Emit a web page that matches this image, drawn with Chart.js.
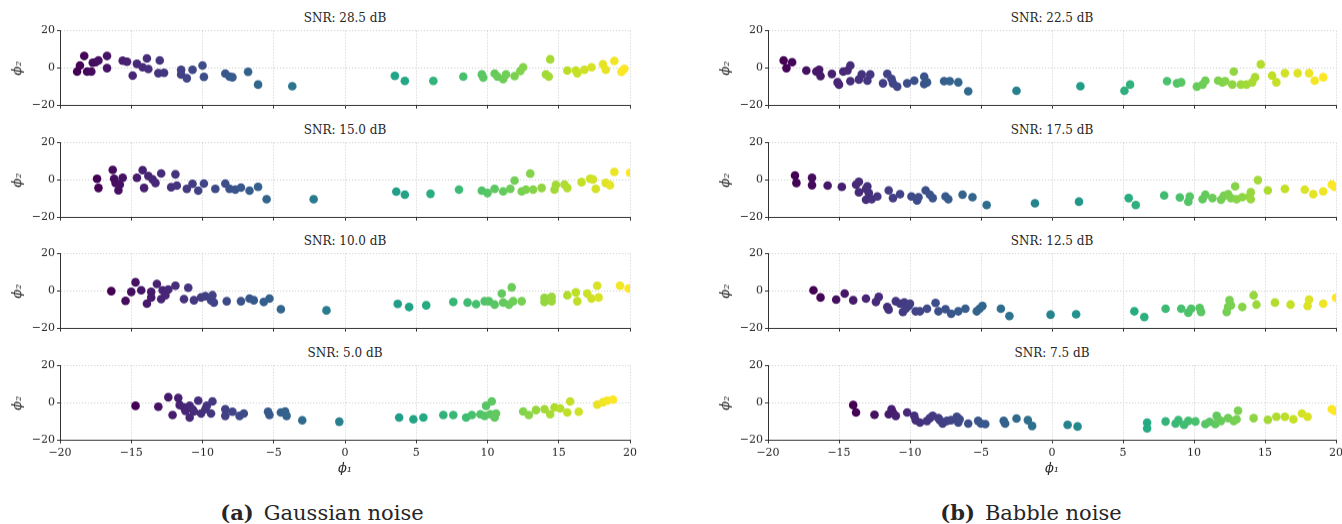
<!DOCTYPE html>
<html>
<head>
<meta charset="utf-8">
<script src="https://cdn.jsdelivr.net/npm/chart.js@4.4.0/dist/chart.umd.min.js"></script>
<style>
  body { margin: 0; background: #fff; }
  #fig { position: relative; width: 1342px; height: 524px; overflow: hidden;
         font-family: 'DejaVu Serif', serif; color: #262626; }
  .panel { position: absolute; }
  .title { position: absolute; font-size: 12px; line-height: 14px; text-align: center; white-space: nowrap; }
  .caption { position: absolute; font-size: 21px; line-height: 21px; text-align: center; white-space: nowrap; }
  .caption b { margin-right: 10px; }
</style>
</head>
<body>
<div id="fig"></div>
<script>
// --- data ---
const xTicks = [-20, -15, -10, -5, 0, 5, 10, 15, 20];
const yTicks = [-20, 0, 20];
const snrGauss = ['28.5', '15.0', '10.0', '5.0'];
const snrBabble = ['22.5', '17.5', '12.5', '7.5'];

// Gaussian noise, SNR 28.5 dB
const g285x = [-18.8, -18.6, -18.3, -18.1, -17.8, -17.7, -17.5, -17.3, -16.7, -16.7, -15.6, -15.3, -14.9, -14.6, -14.2, -13.9, -13.8, -13.1, -13.0, -12.7,
  -11.5, -11.5, -11.1, -10.7, -10.0, -9.9, -8.4, -8.1, -7.9, -6.8, -6.1, -3.7, 3.5, 4.2, 6.2, 8.3, 9.6, 9.7, 10.5, 10.7,
  11.1, 11.3, 11.9, 12.3, 12.5, 14.1, 14.3, 14.4, 15.6, 16.2, 16.3, 16.8, 17.3, 18.1, 18.3, 18.9, 19.4, 19.6];
const g285y = [-1.8, 1.4, 6.5, -1.8, -1.8, 2.9, 3.2, 4.1, 6.5, 0, 4, 3.4, -4, 2.3, 0.5, 5.2, -0.5, -2.7, 4.1, -2.5,
  -0.9, -3.4, -5.4, -0.9, 1.4, -4.7, -2.9, -4.5, -4.9, -2, -8.8, -9.7, -4.1, -6.8, -6.8, -4.5, -3.4, -5, -2.9, -4.5,
  -5.9, -3.4, -4.3, -1.6, 0.5, -3.4, -4.5, 4.7, -1.3, -1.3, -2.7, -0.9, 0.5, 2, -0.9, 3.8, -2, -0.4];

// Gaussian noise, SNR 15.0 dB
const g150x = [-17.4, -17.3, -16.3, -16.2, -16.1, -15.9, -15.8, -15.6, -14.6, -14.2, -14.1, -13.8, -13.5, -13.3, -12.9, -12.2, -11.9, -11.8, -11.1, -10.7,
  -10.3, -9.9, -9.1, -8.4, -8.1, -7.7, -7.3, -6.7, -6.1, -5.5, -2.2, 3.6, 4.2, 6.0, 8.0, 9.6, 10.0, 10.5, 11.1, 11.6,
  11.9, 12.4, 12.7, 13.0, 13.2, 13.8, 14.7, 14.8, 15.4, 15.6, 16.6, 17.2, 17.4, 17.6, 18.3, 18.6, 18.9, 20.0];
const g150y = [0.7, -4.2, 5.5, 0.7, -1.5, -5.5, -2.4, 1.3, 1.3, 5.3, -4.2, 2.2, 0.4, -1.5, 3.6, -3.8, 3.1, -2.9, -4.7, -2,
  -5.6, -1.8, -4.7, -1.8, -4.7, -5.1, -4, -5.6, -3.6, -10.2, -10.2, -6.2, -7.8, -7.3, -5.1, -5.6, -6.9, -4.7, -6, -4.7,
  -0.2, -6, -5.1, 3.5, -5.1, -4.2, -5.1, -2.5, -2.4, -4.2, -1.1, 0.7, 0.4, -4.7, -1.5, -2.7, 4.4, 4.0];

// Gaussian noise, SNR 10.0 dB
const g100x = [-16.4, -15.4, -15.0, -14.7, -14.3, -13.9, -13.6, -13.6, -13.2, -12.9, -12.8, -12.6, -12.4, -11.9, -11.3, -11.0, -10.6, -10.1, -9.8, -9.4,
  -9.3, -9.2, -8.3, -7.3, -6.7, -6.4, -5.7, -5.3, -4.5, -1.3, 3.7, 4.5, 5.7, 7.6, 8.6, 9.2, 9.8, 10.1, 10.5, 11.0,
  11.1, 11.5, 11.7, 11.8, 12.4, 14.0, 14.0, 14.5, 14.5, 15.6, 16.2, 16.3, 17.0, 17.3, 17.7, 17.8, 19.3, 19.9];
const g100y = [0, -5.2, -0.4, 4.7, 0.5, -6.7, -0.4, -3.4, 3.8, -4.3, 0.5, -2.2, 0.9, 2.9, -4.3, 1.8, -4.9, -3.4, -2.7, -4.9,
  -2.2, -6.1, -5.4, -5.4, -4.0, -4.9, -5.8, -4.0, -9.7, -10.3, -6.8, -8.5, -7.6, -5.8, -6.1, -7.0, -5.4, -5.4, -7.2, -1.3,
  -6.1, -7.2, 2.0, -5.4, -5.4, -3.6, -5.8, -3.1, -5.4, -2.2, -0.7, -5.4, -1.3, -4.0, 2.9, -3.4, 2.9, 1.4];

// Gaussian noise, SNR 5.0 dB
const g50x = [-14.7, -13.1, -12.4, -12.1, -11.7, -11.6, -11.3, -11.2, -10.9, -10.9, -10.7, -10.6, -10.3, -10.1, -9.8, -9.7, -9.4, -9.3, -8.4, -8.4,
  -7.9, -7.4, -7.1, -5.4, -5.3, -4.5, -4.2, -4.1, -3.0, -0.4, 3.8, 4.8, 5.5, 6.9, 7.6, 8.5, 8.9, 9.5, 9.8, 9.9,
  10.2, 10.3, 10.5, 10.6, 12.5, 12.9, 13.4, 14.0, 14.4, 14.7, 15.1, 15.6, 15.8, 16.4, 17.7, 18.1, 18.4, 18.8];
const g50y = [-1.5, -2, 3.1, -6.4, 2.7, -1.1, -2.4, -4.2, -1.5, -7.8, -3.3, -4.5, 1.3, -5.6, -3.3, -1.5, -5.6, 0.9, -3.3, -6.9,
  -4.7, -6.9, -5.6, -4.7, -6.4, -5.1, -4.5, -6.9, -9.3, -10, -7.8, -8.7, -7.8, -6.4, -6.4, -7.8, -6.4, -6, -6.9, -1.5,
  -6, 0.9, -7.8, -5.6, -4.5, -6.4, -3.8, -3.3, -6, -2.4, -2.9, -5.1, 0.9, -4.7, -0.9, 0.4, 1.3, 1.8];

// Babble noise, SNR 22.5 dB
const b225x = [-18.9, -18.7, -18.3, -17.3, -16.6, -16.4, -16.3, -15.5, -15.1, -15.0, -14.7, -14.4, -14.2, -14.2, -13.6, -13.4, -13.0, -12.8, -11.9, -11.6,
  -11.3, -11.2, -10.9, -10.2, -9.7, -9.0, -9.0, -8.8, -7.6, -7.2, -6.6, -5.9, -2.5, 2.0, 5.1, 5.5, 8.1, 8.8, 9.1, 10.2,
  10.6, 10.8, 11.7, 12.0, 12.2, 12.7, 12.8, 13.3, 13.7, 14.1, 14.3, 14.7, 15.5, 15.8, 16.4, 17.3, 18.1, 18.5, 19.1];
const b225y = [4.1, 0, 3.2, -1.3, -1.8, -0.9, -4.3, -3.1, -7.6, -8.8, -1.8, -1.3, 1.4, -7, -6.1, -3.4, -6.7, -3.4, -8.1, -3.1,
  -5.8, -8.1, -9.9, -8.1, -6.7, -4.5, -8.5, -7.6, -7, -7, -7.6, -12.4, -12.1, -9.7, -12.1, -8.8, -7, -8.1, -7.6, -9.9,
  -8.8, -6.7, -6.7, -7.6, -7, -8.8, -1.8, -8.8, -8.8, -7.6, -4.9, 2, -4, -7.6, -2.7, -2.7, -2.7, -6.7, -4.9];

// Babble noise, SNR 17.5 dB
const b175x = [-18.1, -18.0, -16.9, -16.9, -15.8, -14.8, -13.8, -13.6, -13.6, -13.1, -13.1, -13.0, -12.9, -12.7, -12.3, -11.5, -11.2, -10.7, -9.9, -9.5,
  -9.4, -8.9, -8.6, -8.4, -7.5, -7.3, -6.3, -5.6, -4.6, -1.2, 1.9, 5.4, 5.9, 7.9, 9.0, 9.6, 9.7, 10.6, 10.8, 11.3,
  11.9, 12.1, 12.4, 12.6, 12.9, 13.0, 13.4, 13.9, 14.0, 14.0, 14.5, 15.2, 16.4, 17.8, 18.4, 19.1, 19.7, 19.9];
const b175y = [2.5, -1.5, 1.3, -2.7, -2.9, -3.6, -2.4, -0.9, -6.5, -4.7, -10.5, -3.3, -6.9, -10.2, -8.7, -5.5, -9.6, -7.5, -8.7, -10.9,
  -9.1, -5.5, -7.8, -9.6, -8.7, -10.2, -7.8, -9.1, -13.3, -12.4, -11.5, -9.6, -13.3, -8.2, -9.3, -11.5, -8.7, -10.2, -7.8, -9.6,
  -10.5, -8.4, -7.5, -9.6, -3.3, -10.2, -9.1, -8.7, -6.5, -10.2, 0, -5.5, -4.7, -5.1, -7.5, -6, -2.4, -3.6];

// Babble noise, SNR 12.5 dB
const b125x = [-16.8, -16.3, -15.2, -14.6, -14.0, -13.1, -12.4, -12.2, -11.6, -11.5, -11.0, -10.7, -10.5, -10.4, -10.3, -10.1, -10.0, -9.6, -9.3, -8.8,
  -8.2, -8.0, -7.5, -7.1, -6.6, -6.1, -5.3, -5.1, -4.9, -3.6, -3.0, -0.1, 1.7, 5.8, 6.5, 8.0, 9.1, 9.6, 9.8, 10.4,
  10.5, 12.3, 12.4, 12.5, 12.6, 13.4, 14.2, 14.4, 15.7, 16.8, 18.0, 18.1, 19.1, 20.0];
const b125y = [0.5, -3.4, -4.5, -1.3, -4.9, -4, -5.8, -3.1, -8.5, -9.9, -5.4, -6.7, -11.2, -6.1, -9.4, -7.9, -6.7, -10.8, -10.8, -9.4,
  -6.3, -10.8, -9.7, -12.1, -10.8, -9.4, -10.8, -9.4, -7.9, -9.4, -13.3, -12.6, -12.4, -10.8, -13.9, -9.4, -9.4, -11.5, -9.4, -9,
  -11.2, -11.2, -8.5, -4.9, -7.6, -8.5, -2.2, -7.2, -6.1, -7.2, -7.9, -4.5, -6.7, -3.6];

// Babble noise, SNR 7.5 dB
const b75x = [-14.0, -13.8, -12.5, -11.5, -11.3, -11.2, -11.0, -10.2, -9.7, -9.6, -9.3, -8.8, -8.6, -8.4, -8.0, -7.9, -7.7, -7.4, -7.1, -6.7,
  -6.6, -6.5, -5.9, -5.2, -5.0, -4.7, -3.4, -3.3, -2.5, -1.7, -1.4, 1.1, 1.8, 6.7, 6.7, 8.0, 8.7, 8.9, 9.3, 9.6,
  10.1, 10.8, 11.1, 11.5, 11.6, 11.9, 12.4, 12.8, 13.1, 13.0, 14.2, 15.2, 15.8, 16.4, 17.0, 17.6, 18.0, 19.7, 19.9];
const b75y = [-1.1, -5.1, -6.3, -6, -3.3, -5.1, -6.9, -5.1, -6.9, -9.2, -10.5, -9.6, -8.1, -6.9, -8.1, -9.2, -11, -9.6, -9.2, -7.4,
  -10.5, -8.7, -11, -9.6, -11, -11.3, -9.6, -11, -8.3, -9.2, -12.3, -11.7, -12.6, -10.5, -13.6, -9.9, -11, -9.2, -11.7, -9.6,
  -9.9, -11.3, -10.1, -11.3, -6.9, -9.6, -8.1, -9.6, -4.1, -8.7, -8.1, -9, -7.4, -7.4, -8.7, -5.6, -7.4, -3.3, -4.2];

// --- styling helpers ---
Chart.defaults.font.family = "'DejaVu Serif', serif";
Chart.defaults.color = '#262626';

const viridisStops = ['#440154', '#482475', '#414487', '#355f8d', '#2a788e', '#21918c',
                      '#22a884', '#44bf70', '#7ad151', '#bddf26', '#fde725'];

function hexToRgb(h) {
    return [parseInt(h.slice(1, 3), 16), parseInt(h.slice(3, 5), 16), parseInt(h.slice(5, 7), 16)];
}

function viridis(t) {
    t = Math.max(0, Math.min(1, t));
    const pos = t * (viridisStops.length - 1);
    const i = Math.min(Math.floor(pos), viridisStops.length - 2);
    const f = pos - i;
    const a = hexToRgb(viridisStops[i]), b = hexToRgb(viridisStops[i + 1]);
    const c = a.map((v, k) => Math.round(v + (b[k] - v) * f));
    return `rgb(${c[0]},${c[1]},${c[2]})`;
}

const fmtTick = v => (v < 0 ? '\u2212' + Math.abs(v) : String(v));

const AXIS_W = 50;
const PLOT_H = 74;
const rowTops = [31, 143, 254, 366];
const columns = [
    { left: 60, width: 570, padRight: 12, snr: snrGauss, xs: [g285x, g150x, g100x, g50x], ys: [g285y, g150y, g100y, g50y] },
    { left: 768, width: 568, padRight: 6, snr: snrBabble, xs: [b225x, b175x, b125x, b75x], ys: [b225y, b175y, b125y, b75y] }
];

const fig = document.getElementById('fig');

function axisStyle() {
    return {
        grid: { color: '#c8c8c8', lineWidth: 0.8, tickColor: '#333', tickWidth: 1, tickLength: 3, tickBorderDash: [] },
        border: { display: true, color: '#333', width: 1, dash: [1.2, 1.8] }
    };
}

function makePanel(col, row) {
    const isBottom = row === rowTops.length - 1;
    const top = rowTops[row];
    const xs = col.xs[row], ys = col.ys[row];
    const xmin = Math.min(...xs), xmax = Math.max(...xs);
    const xH = isBottom ? 36 : 4;

    const title = document.createElement('div');
    title.className = 'title';
    title.style.left = col.left + 'px';
    title.style.width = col.width + 'px';
    title.style.top = (top - 20) + 'px';
    title.textContent = 'SNR: ' + col.snr[row] + ' dB';
    fig.appendChild(title);

    const box = document.createElement('div');
    box.className = 'panel';
    let bx = col.left - AXIS_W, by = top - 4;
    let bw = AXIS_W + col.width + col.padRight, bh = 4 + PLOT_H + xH;
    const place = () => {
        box.style.left = bx + 'px';
        box.style.top = by + 'px';
        box.style.width = bw + 'px';
        box.style.height = bh + 'px';
    };
    place();
    const canvas = document.createElement('canvas');
    box.appendChild(canvas);
    fig.appendChild(box);

    const xs_ = axisStyle(), ys_ = axisStyle();

    const chart = new Chart(canvas.getContext('2d'), {
        type: 'scatter',
        data: {
            datasets: [{
                data: xs.map((x, i) => ({ x: x, y: ys[i] })),
                pointRadius: 4.3,
                pointHoverRadius: 4.3,
                borderWidth: 0,
                backgroundColor: ctx => viridis((ctx.raw.x - xmin) / (xmax - xmin))
            }]
        },
        options: {
            responsive: true,
            maintainAspectRatio: false,
            animation: false,
            events: [],
            layout: { autoPadding: false, padding: { top: 4, right: col.padRight, left: 0, bottom: 0 } },
            plugins: { legend: { display: false }, tooltip: { enabled: false } },
            scales: {
                x: {
                    type: 'linear', min: -20, max: 20,
                    afterBuildTicks: s => { s.ticks = xTicks.map(v => ({ value: v })); },
                    afterFit: s => { s.height = xH; },
                    grid: xs_.grid, border: xs_.border,
                    ticks: { display: isBottom, padding: 3, font: { size: 11 }, color: '#262626', maxRotation: 0, callback: fmtTick },
                    title: { display: isBottom, text: '\u03d5\u2081', font: { size: 13, style: 'italic' }, padding: 0, color: '#262626' }
                },
                y: {
                    type: 'linear', min: -20, max: 20,
                    afterBuildTicks: s => { s.ticks = yTicks.map(v => ({ value: v })); },
                    afterFit: s => { s.width = AXIS_W; },
                    grid: ys_.grid, border: ys_.border,
                    ticks: { padding: 2, font: { size: 11 }, color: '#262626', callback: fmtTick },
                    title: { display: true, text: '\u03d5\u2082', font: { size: 13, style: 'italic' }, padding: 0, color: '#262626' }
                }
            }
        }
    });

    // move/resize the box so the plot area lands on the intended pixels
    for (let k = 0; k < 2; k++) {
        const ca = chart.chartArea;
        bx = col.left - ca.left;
        by = top - ca.top;
        bw += col.width - (ca.right - ca.left);
        bh += PLOT_H - (ca.bottom - ca.top);
        place();
        chart.resize(bw, bh);
    }
}

columns.forEach(col => rowTops.forEach((_, r) => makePanel(col, r)));

// sub-figure captions
[['(a)', 'Gaussian noise', 322], ['(b)', 'Babble noise', 1031]].forEach(([tag, txt, cx]) => {
    const c = document.createElement('div');
    c.className = 'caption';
    c.style.left = (cx - 200) + 'px';
    c.style.width = '400px';
    c.style.top = '502px';
    c.innerHTML = '<b>' + tag + '</b>' + txt;
    fig.appendChild(c);
});
</script>
</body>
</html>
